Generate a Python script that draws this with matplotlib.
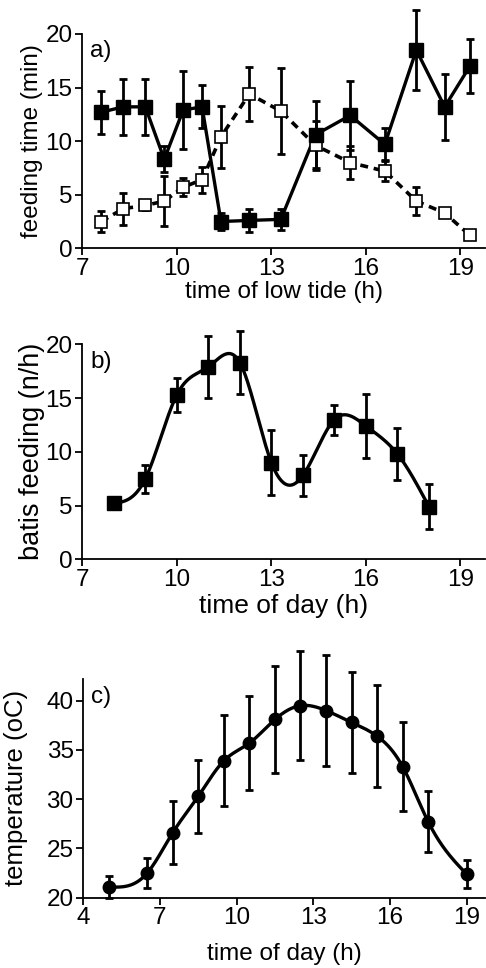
import numpy as np
import matplotlib
matplotlib.use("Agg")
import matplotlib.pyplot as plt

plt.rcParams['font.family'] = ['Liberation Sans', 'DejaVu Sans']

# panel a: feeding time vs time of low tide
tide_x = [7.6, 8.3, 9.0, 9.6, 10.2, 10.8, 11.4, 12.3, 13.3, 14.4, 15.5, 16.6, 17.6, 18.5, 19.3]
filled_y = [12.7, 13.2, 13.2, 8.3, 12.9, 13.2, 2.5, 2.6, 2.7, 10.6, 12.4, 9.7, 18.5, 13.2, 17.0]
filled_err = [2.0, 2.6, 2.6, 1.2, 3.6, 2.0, 0.8, 1.1, 1.0, 3.1, 3.2, 1.5, 3.7, 3.1, 2.5]
open_y = [2.5, 3.7, 4.0, 4.4, 5.7, 6.4, 10.4, 14.4, 12.8, 9.6, 8.0, 7.2, 4.4, 3.3, 1.2]
open_err = [1.0, 1.5, 0.4, 2.3, 0.85, 1.2, 2.9, 2.5, 4.0, 2.3, 1.55, 0.9, 1.3, 0, 0]

# panel b: batis feeding vs time of day
day_x = [8, 9, 10, 11, 12, 13, 14, 15, 16, 17, 18]
batis_y = [5.2, 7.5, 15.3, 17.9, 18.3, 9.0, 7.8, 13.0, 12.4, 9.8, 4.9]
batis_err = [0, 1.3, 1.6, 2.9, 2.9, 3.0, 1.9, 1.4, 3.0, 2.4, 2.1]

# panel c: temperature vs time of day
temp_x = [5.0, 6.5, 7.5, 8.5, 9.5, 10.5, 11.5, 12.5, 13.5, 14.5, 15.5, 16.5, 17.5, 19.0]
temp_y = [21.1, 22.5, 26.6, 30.3, 33.9, 35.7, 38.1, 39.5, 39.0, 37.8, 36.4, 33.3, 27.7, 22.4]
temp_err = [1.1, 1.5, 3.2, 3.7, 4.6, 4.8, 5.4, 5.5, 5.6, 5.1, 5.2, 4.5, 3.1, 1.4]

FS = 17.5


def spline(x, y, n=300):
    # natural cubic spline through the points
    x = np.asarray(x, float)
    y = np.asarray(y, float)
    m = len(x)
    h = np.diff(x)
    A = np.zeros((m, m))
    r = np.zeros(m)
    A[0, 0] = A[-1, -1] = 1
    for i in range(1, m - 1):
        A[i, i - 1] = h[i - 1]
        A[i, i] = 2 * (h[i - 1] + h[i])
        A[i, i + 1] = h[i]
        r[i] = 3 * ((y[i + 1] - y[i]) / h[i] - (y[i] - y[i - 1]) / h[i - 1])
    c = np.linalg.solve(A, r)
    xs = np.linspace(x[0], x[-1], n)
    idx = np.clip(np.searchsorted(x, xs) - 1, 0, m - 2)
    dx = xs - x[idx]
    b = (y[1:] - y[:-1]) / h - h * (2 * c[:-1] + c[1:]) / 3
    d = (c[1:] - c[:-1]) / (3 * h)
    ys = y[idx] + b[idx] * dx + c[idx] * dx ** 2 + d[idx] * dx ** 3
    return xs, ys


def style(ax):
    for s in ['top', 'right']:
        ax.spines[s].set_visible(False)
    for s in ['left', 'bottom']:
        ax.spines[s].set_linewidth(1.3)
    ax.tick_params(direction='out', length=5, width=1.3, labelsize=FS, pad=2)


fig = plt.figure(figsize=(4.86, 9.68), dpi=100)

ekw = dict(fmt='none', ecolor='black', elinewidth=2, capsize=3, capthick=2, clip_on=False)

# a)
ax1 = fig.add_axes([0.1694, 0.7435, 0.8286, 0.2214])
ax1.errorbar(tide_x, open_y, yerr=open_err, zorder=2, **ekw)
ax1.errorbar(tide_x, filled_y, yerr=filled_err, zorder=2, **ekw)
ax1.plot(tide_x, open_y, color='black', lw=2.6, ls=(0, (2.2, 1.6)), zorder=3)
ax1.plot(tide_x, filled_y, color='black', lw=2.4, zorder=4)
ax1.plot(tide_x, open_y, 's', ms=9, mfc='white', mec='black', mew=1.2, zorder=5, clip_on=False)
ax1.plot(tide_x, filled_y, 's', ms=9.5, color='black', zorder=6, clip_on=False)
ax1.set_xlim(7, 19.78)
ax1.set_ylim(0, 20)
ax1.set_xticks([7, 10, 13, 16, 19])
ax1.set_yticks([0, 5, 10, 15, 20])
ax1.set_xlabel('time of low tide (h)', fontsize=FS, labelpad=1)
ax1.set_ylabel('feeding time (min)', fontsize=FS, labelpad=2)
ax1.text(0.02, 0.97, 'a)', transform=ax1.transAxes, fontsize=FS, va='top')
style(ax1)

# b)
ax2 = fig.add_axes([0.1694, 0.4222, 0.8286, 0.2221])
sx, sy = spline(day_x, batis_y)
ax2.errorbar(day_x, batis_y, yerr=batis_err, zorder=2, **ekw)
ax2.plot(sx, sy, color='black', lw=2.4, zorder=3)
ax2.plot(day_x, batis_y, 's', ms=9.5, color='black', zorder=5, clip_on=False)
ax2.set_xlim(7, 19.78)
ax2.set_ylim(0, 20)
ax2.set_xticks([7, 10, 13, 16, 19])
ax2.set_yticks([0, 5, 10, 15, 20])
ax2.set_xlabel('time of day (h)', fontsize=19, labelpad=2)
ax2.set_ylabel('batis feeding (n/h)', fontsize=19.5, labelpad=0)
ax2.text(0.02, 0.97, 'b)', transform=ax2.transAxes, fontsize=FS, va='top')
style(ax2)

# c)
ax3 = fig.add_axes([0.1714, 0.0726, 0.8265, 0.2259])
tx, ty = spline(temp_x, temp_y)
ax3.errorbar(temp_x, temp_y, yerr=temp_err, zorder=2, **ekw)
ax3.plot(tx, ty, color='black', lw=2.4, zorder=3)
ax3.plot(temp_x, temp_y, 'o', ms=9, color='black', zorder=5, clip_on=False)
ax3.set_xlim(4, 19.72)
ax3.set_ylim(20, 42.2)
ax3.set_xticks([4, 7, 10, 13, 16, 19])
ax3.set_yticks([20, 25, 30, 35, 40])
ax3.set_xlabel('time of day (h)', fontsize=FS, labelpad=10)
ax3.set_ylabel('temperature (oC)', fontsize=18.5, labelpad=13)
ax3.text(0.02, 0.97, 'c)', transform=ax3.transAxes, fontsize=FS, va='top')
style(ax3)

fig.savefig('out.png', dpi=100)
